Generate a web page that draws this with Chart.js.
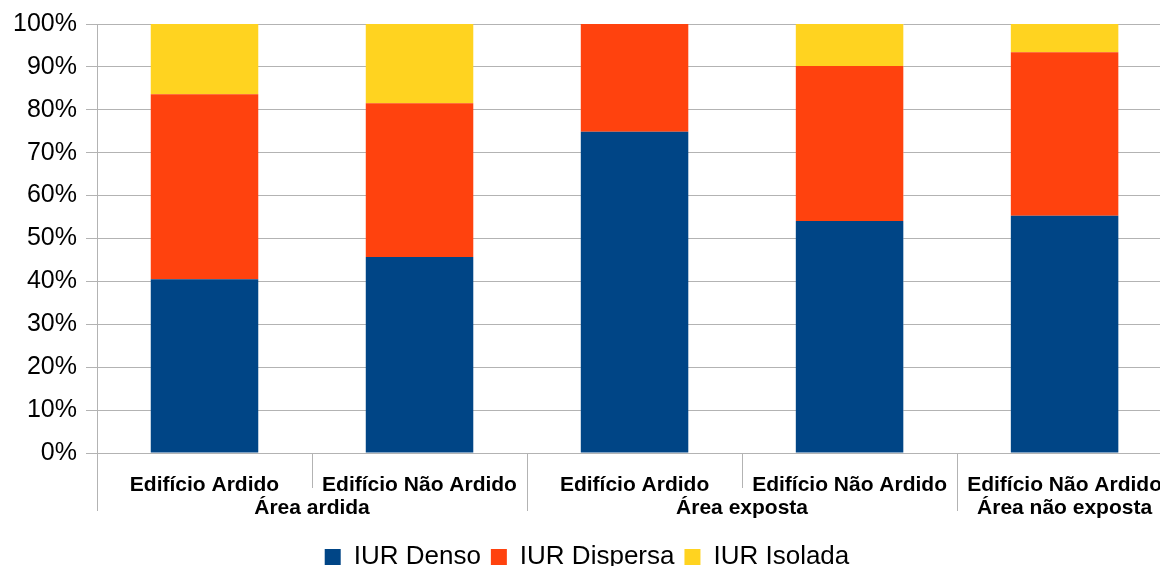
<!DOCTYPE html>
<html>
<head>
<meta charset="utf-8">
<script src="https://cdn.jsdelivr.net/npm/chart.js@4"></script>
<style>
  html, body { margin: 0; padding: 0; background: #fff; overflow: hidden; }
  #wrap { width: 1174px; height: 566px; position: relative; }
</style>
</head>
<body>
<div id="wrap"><canvas id="chart"></canvas></div>
<script>
const categories = ['Edifício Ardido', 'Edifício Não Ardido', 'Edifício Ardido', 'Edifício Não Ardido', 'Edifício Não Ardido'];
const groups = ['Área ardida', 'Área ardida', 'Área exposta', 'Área exposta', 'Área não exposta'];
const denso = [40.5, 45.7, 74.9, 54.1, 55.3];
const dispersa = [43.1, 35.8, 25.1, 36.1, 38.1];
const isolada = [16.4, 18.5, 0, 9.8, 6.6];
const yTicks = [0, 10, 20, 30, 40, 50, 60, 70, 80, 90, 100];

const FONT = '"Liberation Sans", Arial, sans-serif';
const GRID = '#b3b3b3';

// separators + group labels under the x axis
const groupLabels = {
  id: 'groupLabels',
  afterDraw(chart) {
    const x = chart.scales.x;
    const ctx = chart.ctx;
    const n = categories.length;
    ctx.save();
    ctx.strokeStyle = GRID;
    ctx.lineWidth = 1;
    for (let i = 0; i <= n; i++) {
      const px = Math.round(x.getPixelForValue(i - 0.5)) + 0.5;
      const long = i === 0 || i === n || groups[i] !== groups[i - 1];
      ctx.beginPath();
      ctx.moveTo(px, x.top);
      ctx.lineTo(px, x.top + (long ? 58 : 35));
      ctx.stroke();
    }
    ctx.fillStyle = '#000';
    ctx.font = 'bold 21px ' + FONT;
    ctx.textAlign = 'center';
    ctx.textBaseline = 'middle';
    let start = 0;
    for (let i = 1; i <= n; i++) {
      if (i === n || groups[i] !== groups[start]) {
        const cx = (x.getPixelForValue(start) + x.getPixelForValue(i - 1)) / 2;
        ctx.fillText(groups[start], cx, x.top + 55);
        start = i;
      }
    }
    ctx.restore();
  }
};

new Chart(document.getElementById('chart'), {
  type: 'bar',
  data: {
    labels: categories,
    datasets: [
      { label: 'IUR Denso', data: denso, backgroundColor: '#004586' },
      { label: 'IUR Dispersa', data: dispersa, backgroundColor: '#ff420e' },
      { label: 'IUR Isolada', data: isolada, backgroundColor: '#ffd320' }
    ]
  },
  options: {
    responsive: true,
    maintainAspectRatio: false,
    animation: false,
    layout: { padding: { top: 17, left: 0, right: 0, bottom: -14 } },
    datasets: { bar: { barPercentage: 0.5, categoryPercentage: 1.0 } },
    plugins: {
      legend: {
        position: 'bottom',
        labels: {
          boxWidth: 16, boxHeight: 16, padding: 10,
          color: '#000', font: { family: FONT, size: 26 }
        }
      },
      tooltip: { enabled: false }
    },
    scales: {
      x: {
        stacked: true,
        grid: { display: false },
        border: { color: GRID },
        ticks: {
          color: '#000', font: { family: FONT, size: 21, weight: 'bold' },
          maxRotation: 0, autoSkip: false, padding: 12
        },
        afterFit(scale) { scale.height = 81; }
      },
      y: {
        stacked: true,
        min: 0, max: 100,
        afterBuildTicks(scale) { scale.ticks = yTicks.map(v => ({ value: v })); },
        afterFit(scale) { scale.width = 97; },
        grid: { color: GRID, tickLength: 11, drawTicks: true },
        border: { color: GRID },
        ticks: {
          color: '#000', font: { family: FONT, size: 25 }, padding: 9,
          callback: v => v + '%'
        }
      }
    }
  },
  plugins: [groupLabels]
});
</script>
</body>
</html>
